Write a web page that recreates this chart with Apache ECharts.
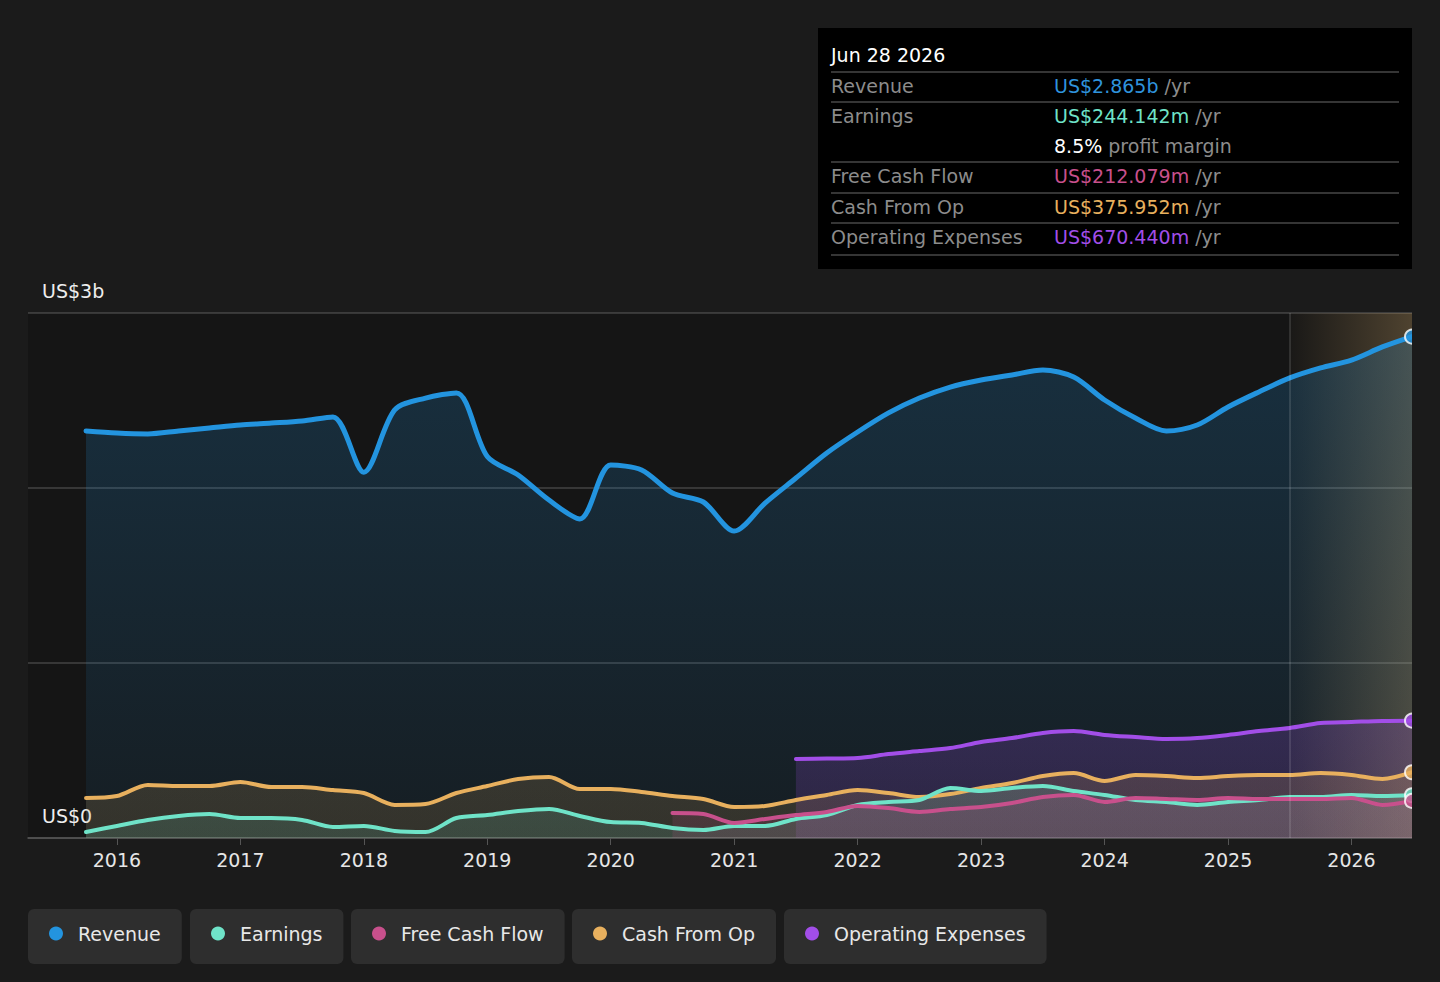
<!DOCTYPE html>
<html>
<head>
<meta charset="utf-8">
<title>Revenue and earnings</title>
<script src="https://cdn.jsdelivr.net/npm/echarts@6/dist/echarts.min.js"></script>
<style>
html, body { margin: 0; padding: 0; background: #1b1b1b; }
#chart { width: 1412px; height: 982px; }
</style>
</head>
<body>
<div id="chart"></div>
<script>
// quarter ends (decimal years), last point is Jun 28 2026
var quarters = [2015.75, 2016, 2016.25, 2016.5, 2016.75, 2017, 2017.25, 2017.5, 2017.75,
    2018, 2018.25, 2018.5, 2018.75, 2019, 2019.25, 2019.5, 2019.75, 2020, 2020.25, 2020.5, 2020.75,
    2021, 2021.25, 2021.5, 2021.75, 2022, 2022.25, 2022.5, 2022.75, 2023, 2023.25, 2023.5, 2023.75,
    2024, 2024.25, 2024.5, 2024.75, 2025, 2025.25, 2025.5, 2025.75, 2026, 2026.25, 2026.49];

// US$ billions
var revenue = [2.326, 2.314, 2.309, 2.326, 2.343, 2.36, 2.371, 2.383, 2.406,
    2.09, 2.446, 2.514, 2.543, 2.18, 2.074, 1.931, 1.823, 2.131, 2.103, 1.971, 1.92,
    1.754, 1.914, 2.057, 2.2, 2.32, 2.429, 2.514, 2.577, 2.617, 2.646, 2.674, 2.634,
    2.503, 2.4, 2.326, 2.36, 2.463, 2.549, 2.629, 2.686, 2.731, 2.806, 2.865];

var earnings = [0.034, 0.069, 0.103, 0.126, 0.137, 0.114, 0.114, 0.103, 0.063,
    0.069, 0.04, 0.034, 0.114, 0.131, 0.154, 0.166, 0.126, 0.091, 0.086, 0.057, 0.046,
    0.069, 0.069, 0.109, 0.131, 0.189, 0.206, 0.217, 0.286, 0.269, 0.286, 0.297, 0.269,
    0.246, 0.217, 0.206, 0.189, 0.206, 0.217, 0.234, 0.234, 0.246, 0.24, 0.244142];

var cashFromOp = [0.229, 0.24, 0.303, 0.297, 0.297, 0.32, 0.291, 0.291, 0.274,
    0.257, 0.189, 0.194, 0.257, 0.297, 0.337, 0.349, 0.28, 0.28, 0.263, 0.24, 0.223,
    0.177, 0.183, 0.217, 0.246, 0.274, 0.257, 0.234, 0.251, 0.286, 0.314, 0.354, 0.371,
    0.326, 0.36, 0.354, 0.343, 0.354, 0.36, 0.36, 0.371, 0.36, 0.337, 0.375952];

// starts 2020.5
var fcfFrom = 2020.5;
var freeCashFlow = [0.143, 0.137, 0.086, 0.109, 0.131, 0.149, 0.183, 0.171, 0.149, 0.166,
    0.177, 0.2, 0.234, 0.246, 0.206, 0.229, 0.223, 0.217, 0.229, 0.223, 0.223, 0.223,
    0.229, 0.189, 0.212079];

// starts 2021.5
var opexFrom = 2021.5;
var opex = [0.451, 0.454, 0.457, 0.48, 0.497, 0.514, 0.549, 0.571, 0.6, 0.611, 0.589,
    0.577, 0.566, 0.571, 0.589, 0.611, 0.629, 0.657, 0.663, 0.669, 0.67044];

var yearTicks = [2016, 2017, 2018, 2019, 2020, 2021, 2022, 2023, 2024, 2025, 2026];
var forecastFrom = 2025.5;
var lastDate = 2026.49;

var FONT = 'DejaVu Sans';
var colRevenue = '#2394df', colEarnings = '#6fe3c8', colFcf = '#c8508c', colCfo = '#e8b05e', colOpex = '#a24ee8';

function pairs(xs, ys) {
    return ys.map(function (v, i) { return [xs[i], v]; });
}
function fromDate(d) {
    return quarters.filter(function (q) { return q >= d; });
}

function grad(top, bottom) {
    return new echarts.graphic.LinearGradient(0, 0, 0, 1, [
        { offset: 0, color: top }, { offset: 1, color: bottom }]);
}

function lineSeries(name, color, data, width, fillTop, fillBottom, z) {
    return {
        name: name, type: 'line', data: data, smooth: 0.3, showSymbol: false, z: z,
        silent: true,
        lineStyle: { color: color, width: width, cap: 'round', join: 'round' },
        itemStyle: { color: color },
        areaStyle: { color: grad(fillTop, fillBottom), origin: 'start' },
        emphasis: { disabled: true }
    };
}

function last(a) { return a[a.length - 1]; }

var chart = echarts.init(document.getElementById('chart'), null, { renderer: 'svg' });

var legendNames = ['Revenue', 'Earnings', 'Free Cash Flow', 'Cash From Op', 'Operating Expenses'];
var legendLeft = [28, 190, 351, 572, 784];
var legends = legendNames.map(function (n, i) {
    return {
        data: [n], left: legendLeft[i], top: 909, orient: 'horizontal',
        backgroundColor: '#2e2e2e', borderRadius: 6, padding: [15, 21, 21, 21],
        icon: 'circle', itemWidth: 14, itemHeight: 14, selectedMode: false,
        textStyle: { color: '#e8e8e8', fontSize: 19, fontFamily: FONT, padding: [0, 0, 0, 10] }
    };
});

//提示框
var rowLabel = { fill: '#8c8c8c', font: '19px ' + FONT, verticalAlign: 'middle' };
function tipRow(label, y, valueText, color) {
    return [
        { type: 'text', style: Object.assign({ x: 831, y: y, text: label }, rowLabel) },
        { type: 'text', style: { x: 1054, y: y, text: '{v|' + valueText + '}{u| /yr}', verticalAlign: 'middle',
            font: '19px ' + FONT,
            rich: { v: { fill: color, fontSize: 19, fontFamily: FONT }, u: { fill: '#8c8c8c', fontSize: 19, fontFamily: FONT } } } }
    ];
}
function sep(y) {
    return { type: 'line', shape: { x1: 831, y1: y, x2: 1399, y2: y }, style: { stroke: '#474747', lineWidth: 1.5 } };
}
function money(b) {
    return b >= 1 ? 'US$' + b.toFixed(3) + 'b' : 'US$' + (b * 1000).toFixed(3) + 'm';
}
var margin = (last(earnings) / last(revenue) * 100).toFixed(1) + '%';

var tip = [
    { type: 'rect', shape: { x: 818, y: 28, width: 595, height: 241 }, style: { fill: '#000' } },
    { type: 'text', style: { x: 831, y: 55, text: 'Jun 28 2026', fill: '#ffffff', font: '19px ' + FONT, verticalAlign: 'middle' } },
    sep(72), sep(102), sep(162), sep(193), sep(223), sep(255),
    { type: 'text', style: { x: 1054, y: 146, text: '{w|' + margin + '}{g| profit margin}', verticalAlign: 'middle',
        font: '19px ' + FONT,
        rich: { w: { fill: '#ffffff', fontSize: 19, fontFamily: FONT }, g: { fill: '#8c8c8c', fontSize: 19, fontFamily: FONT } } } }
].concat(tipRow('Revenue', 86, money(last(revenue)), '#2f93dc'))
 .concat(tipRow('Earnings', 116, money(last(earnings)), colEarnings))
 .concat(tipRow('Free Cash Flow', 176, money(last(freeCashFlow)), colFcf))
 .concat(tipRow('Cash From Op', 207, money(last(cashFromOp)), colCfo))
 .concat(tipRow('Operating Expenses', 237, money(last(opex)), colOpex));

var endColors = [colRevenue, colOpex, colCfo, colEarnings, colFcf];
var endValues = [last(revenue), last(opex), last(cashFromOp), last(earnings), last(freeCashFlow)];

var option = {
    backgroundColor: '#1b1b1b',
    animation: false,
    textStyle: { fontFamily: FONT },
    legend: legends,
    grid: { left: 28, right: 0, top: 313, bottom: 144, show: true, backgroundColor: '#151515', borderWidth: 0 },
    xAxis: {
        type: 'value', min: 2015.28, max: lastDate,
        splitLine: { show: false },
        axisLine: { show: true, lineStyle: { color: '#555', width: 1.5 } },
        axisTick: { show: true, length: 7, lineStyle: { color: '#555' }, customValues: yearTicks },
        axisLabel: { color: '#e6e6e6', fontSize: 19, fontFamily: FONT, margin: 12, customValues: yearTicks,
            formatter: function (v) { return String(Math.round(v)); } }
    },
    yAxis: {
        type: 'value', min: 0, max: 3, interval: 1,
        axisLine: { show: false }, axisTick: { show: false },
        splitLine: { lineStyle: { color: 'rgba(255,255,255,0.2)', width: 1.5 } },
        axisLabel: { inside: true, margin: 14, color: '#eeeeee', fontSize: 19, fontFamily: FONT,
            verticalAlign: 'bottom', padding: [0, 0, 13, 0],
            formatter: function (v) { return v === 3 ? 'US$3b' : (v === 0 ? 'US$0' : ''); } }
    },
    graphic: tip,
    series: [
        lineSeries('Revenue', colRevenue, pairs(quarters, revenue), 5, 'rgba(35,148,223,0.3)', 'rgba(35,148,223,0.1)', 2),
        lineSeries('Operating Expenses', colOpex, pairs(fromDate(opexFrom), opex), 4, 'rgba(162,78,232,0.3)', 'rgba(162,78,232,0.22)', 3),
        lineSeries('Cash From Op', colCfo, pairs(quarters, cashFromOp), 4, 'rgba(232,176,94,0.22)', 'rgba(232,176,94,0.2)', 4),
        lineSeries('Earnings', colEarnings, pairs(quarters, earnings), 4, 'rgba(111,227,200,0.2)', 'rgba(111,227,200,0.18)', 4),
        lineSeries('Free Cash Flow', colFcf, pairs(fromDate(fcfFrom), freeCashFlow), 4, 'rgba(200,80,140,0.22)', 'rgba(200,80,140,0.2)', 4),
        {
            name: 'forecast', type: 'line', data: [], z: 6, silent: true,
            markArea: {
                silent: true,
                itemStyle: { color: new echarts.graphic.LinearGradient(0, 0, 1, 0, [
                    { offset: 0, color: 'rgba(235,190,120,0.02)' }, { offset: 1, color: 'rgba(235,190,120,0.27)' }]) },
                data: [[{ xAxis: forecastFrom }, { xAxis: lastDate }]]
            },
            markLine: {
                silent: true, symbol: 'none', label: { show: false },
                lineStyle: { color: 'rgba(255,255,255,0.16)', width: 1.5, type: 'solid' },
                data: [{ xAxis: forecastFrom }]
            }
        },
        {
            name: 'ends', type: 'scatter', z: 10, silent: true, symbolSize: 14, clip: false,
            data: endValues.map(function (v, i) {
                return { value: [lastDate, v], itemStyle: { color: endColors[i], borderColor: '#ffffff', borderWidth: 2 } };
            })
        }
    ]
};

chart.setOption(option);
</script>
</body>
</html>
